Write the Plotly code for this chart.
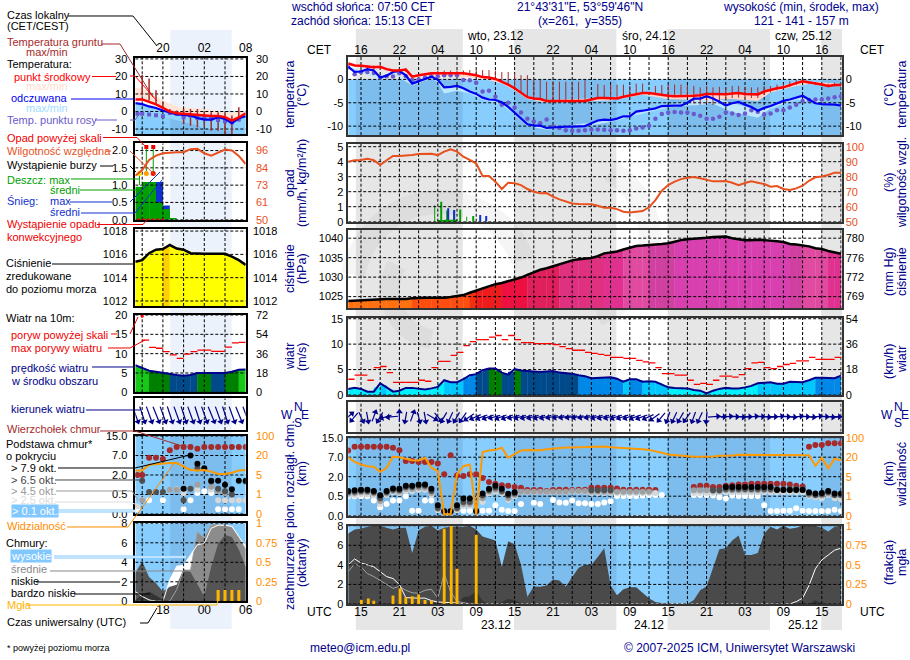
# ICM meteogram, 22-25.12, short range column on the left and long range on the right
import numpy as np
import plotly.graph_objects as go

W, H = 910, 660
FONT = "Liberation Sans"
NAVY = "#00008B"
ORANGE = "#FF8C00"
RH_COL = "#E8501E"
BROWN = "#A52A2A"
DEW = "#6A5ACD"
NIGHT = "#E6E6E6"
SKY_DAY = "#87CEFF"
SKY_NIGHT = "#7CBDEE"

# ---- long range column, hours counted from 13 UTC on 22.12 ----
hours = list(range(78))

temp_mid = [3.4, 3.0, 2.9, 2.7, 2.6, 2.7, 2.2, 1.9, 1.9, 2.1,
            0.6, 0.9, 1.1, 1.3, 1.3, 1.3, 1.3, 1.4, 1.3, 1.1,
            0.9, 0.5, 0.4, 0.1, -0.5, -1.1, -1.9, -2.8, -3.8, -4.1,
            -4.2, -4.6, -4.6, -4.6, -4.6, -4.6, -4.6, -4.6, -4.3, -4.0,
            -4.0, -4.1, -4.1, -3.7, -3.4, -3.1, -2.9, -2.9, -3.1, -3.4,
            -3.5, -3.6, -3.6, -3.6, -3.5, -3.4, -3.1, -3.1, -3.2, -3.2,
            -3.0, -2.9, -3.1, -3.2, -3.2, -2.6, -2.2, -1.9, -1.7, -1.2,
            -0.8, -0.4, -0.6, -0.9, -1.1, -1.4, -1.2, -1.2]
temp_feel = [2.7, 1.6, 1.7, 2.2, 1.9, 0.4, 0.8, 1.6, 1.8, 0.9,
             -0.9, -0.4, 0.1, 0.6, -0.1, -1.7, -1.6, -1.4, -1.9, -2.6,
             -3.1, -3.9, -4.3, -4.4, -4.9, -5.9, -7.1, -8.4, -9.6, -9.9,
             -9.9, -10.4, -10.3, -10.1, -10.1, -10.1, -10.1, -10.0, -9.4, -8.8,
             -8.6, -8.7, -8.4, -7.9, -7.9, -6.9, -6.7, -6.4, -6.2, -5.7,
             -5.6, -5.6, -5.6, -5.0, -4.1, -4.1, -3.6, -4.1, -4.8, -5.6,
             -5.1, -4.8, -5.4, -5.9, -6.7, -6.1, -5.7, -5.1, -4.6, -4.3,
             -3.9, -3.5, -4.3, -5.1, -5.3, -5.3, -5.4, -5.6]
temp_dew = [2.6, 1.1, 1.6, 1.6, 1.4, 0.4, 0.7, 0.6, 1.3, 0.7,
            -0.1, 0.0, 0.4, 0.7, 0.7, 0.9, 0.9, 0.9, -0.1, -0.2,
            -0.7, -2.6, -2.4, -3.7, -5.4, -5.0, -6.0, -7.1, -8.4, -9.0,
            -9.4, -8.6, -10.1, -10.4, -10.9, -11.0, -11.0, -10.9, -10.7, -10.7,
            -10.8, -10.9, -10.9, -11.0, -10.9, -10.5, -10.3, -9.9, -8.4, -7.4,
            -7.1, -7.0, -7.1, -7.1, -7.4, -7.8, -8.4, -8.4, -8.0, -7.1,
            -7.3, -7.6, -7.3, -6.6, -6.9, -7.5, -7.3, -6.6, -6.6, -6.0,
            -5.4, -4.6, -4.4, -4.3, -4.3, -4.1, -3.8, -3.6]
mid_band_hours = [0, 5, 7, 10, 13, 21, 24, 26, 28, 31, 38, 41, 46, 50, 55, 60, 64, 66, 70, 72, 77]
mid_high = [3.5, 2.8, 2.0, 0.8, 1.5, 0.7, -0.3, -1.7, -3.6, -4.4, -4.1, -3.9, -2.7, -3.3, -3.2, -2.8, -3.0, -2.0, -0.6, -0.4, -1.0]
mid_low = [3.1, 2.4, 1.6, 0.3, 0.9, 0.2, -0.9, -2.3, -4.2, -5.0, -4.6, -4.5, -3.3, -4.2, -4.4, -4.2, -4.6, -2.8, -1.4, -1.0, -1.5]
feel_band_hours = [0, 5, 7, 10, 13, 14, 15, 17, 19, 21, 24, 26, 28, 31, 38, 41, 46, 50, 53, 55, 57, 60, 64, 66, 70, 72, 77]
feel_high = [2.8, 0.5, 1.7, -0.8, 0.7, 0.0, -1.6, -1.3, -2.5, -3.8, -4.8, -7.0, -9.5, -10.3, -9.3, -8.6, -6.6, -5.5, -4.9, -4.0, -4.0, -5.0, -6.6, -5.6, -3.8, -4.2, -5.5]
feel_low = [2.3, 0.0, 1.2, -1.3, 0.2, -0.6, -3.0, -2.4, -3.0, -4.3, -5.4, -7.6, -10.0, -10.8, -9.8, -9.1, -7.3, -6.0, -5.6, -5.5, -5.2, -7.0, -8.2, -6.2, -4.3, -4.8, -5.9]
ground_hours = [3, 4, 5, 8, 9, 14, 15, 16, 17, 18, 19, 20, 21, 22, 23, 24, 25, 26, 27, 28, 29,
                30, 31, 32, 33, 34, 35, 36, 37, 39, 40, 41, 42, 43, 44, 45, 46, 48, 49, 50,
                51, 52, 53, 54, 55, 56, 57, 58, 59, 60, 61, 62, 63, 64, 65, 66, 67, 68, 69,
                70, 71, 72, 73, 74, 75, 76, 77]
ground_max = [3.0, 3.0, 3.0, 2.4, 2.4, 1.9, 1.9, 1.9, 1.9, 1.9, 2.0, 2.0, 2.0, 2.0, 1.9, 1.6, 1.6, 1.3, 0.9, 0.9, 0.2,
              -0.1, -0.5, -0.4, -0.5, -0.5, -0.5, -0.5, -0.1, -1.0, -1.2, -1.1, -1.1, -1.1, -1.4, -0.9, -0.9, -1.4, -1.2, -1.1,
              -1.1, -1.1, -1.2, -1.4, -1.7, -1.4, -1.7, -1.6, -1.7, -1.4, -1.4, -1.6, -1.7, -1.7, -1.4, -1.4, -1.1, -0.9, -0.4,
              -0.1, -0.1, -0.5, -0.6, -0.9, -0.9, -0.7, -0.9]
ground_min = [2.1, 2.1, 2.2, 1.5, 1.6, 1.0, 1.0, 1.0, 1.0, 1.0, 0.9, 0.7, 0.4, 0.4, 0.1, -0.5, -1.1, -1.9, -2.8, -3.8, -4.1,
              -4.2, -4.6, -4.6, -4.6, -4.6, -4.6, -4.6, -4.6, -4.0, -4.0, -4.1, -4.1, -3.7, -3.4, -3.1, -2.9, -3.1, -3.4, -3.5,
              -3.6, -3.6, -3.6, -5.1, -5.4, -5.0, -5.5, -5.1, -4.5, -4.0, -3.9, -3.9, -4.0, -4.0, -3.2, -2.8, -2.3, -2.1, -1.6,
              -1.2, -0.7, -1.0, -1.2, -1.4, -1.7, -1.5, -1.5]

rel_hum = [90, 91, 91.2, 92, 91, 87.8, 91, 93.8, 93.8, 94,
           94.4, 95.1, 95.3, 95.3, 94.4, 96.7, 98.2, 96.7, 93.3, 91.1,
           88.9, 80.4, 80.4, 76.7, 71.8, 76, 75.6, 74.4, 71.8, 70,
           68.9, 69.1, 66.7, 64.9, 63.8, 62.2, 61.8, 61.6, 61.6, 60.7,
           59.3, 59.3, 58.4, 56.7, 56.2, 56.7, 57.1, 59.6, 64.4, 70.7,
           74.4, 76.7, 78.4, 79.3, 79.8, 78.9, 77.8, 76.9, 76.9, 77.1,
           76, 74.4, 75.8, 76.9, 76, 75.1, 73.3, 73.8, 71.8, 71.1,
           72.2, 74, 77.3, 79.6, 80.2, 81.1, 82.7, 82.7]
rain_max_hours = [13.5, 14.5, 15.5, 16.5, 17.5, 18.5, 19.5]
rain_max = [1.1, 1.33, 0.75, 0.73, 0.82, 0.33, 0.38]
snow_max_hours = [15.6, 16.6, 20.6, 21.6]
snow_max = [0.9, 0.78, 0.44, 0.38]
rain_mean_hours = [14.5, 15.5, 16.5]
rain_mean = [0.12, 0.13, 0.13]

pressure = [1023.9, 1024.0, 1024.1, 1024.2, 1024.2, 1024.3, 1024.4, 1024.4, 1024.4, 1024.4,
            1024.6, 1024.7, 1024.7, 1024.7, 1024.7, 1024.7, 1024.9, 1025.1, 1025.4, 1026.0,
            1026.6, 1027.1, 1027.6, 1028.2, 1028.5, 1028.9, 1029.3, 1029.9, 1030.6, 1031.3,
            1031.9, 1032.3, 1032.8, 1033.3, 1033.8, 1034.3, 1034.6, 1034.7, 1034.9, 1035.4,
            1036.1, 1036.3, 1036.6, 1037.1, 1037.6, 1038.0, 1038.1, 1038.3, 1038.4, 1038.5,
            1038.7, 1039.1, 1039.5, 1039.7, 1039.8, 1039.9, 1040.1, 1040.3, 1040.3, 1040.4,
            1040.0, 1039.7, 1039.5, 1039.5, 1039.6, 1039.5, 1039.4, 1039.2, 1039.0, 1038.5,
            1038.4, 1038.2, 1037.9, 1037.4, 1037.2, 1036.7, 1036.3, 1036.0]

wind = [1.2, 1.4, 1.2, 0.65, 0.65, 2.3, 1.5, 0.65, 0.85, 1.4,
        1.4, 1.3, 1.1, 1.3, 1.6, 2.9, 2.5, 2.5, 3.1, 3.9,
        4.1, 4.9, 5.2, 5.2, 4.4, 4.0, 5.1, 4.8, 4.7, 4.6,
        4.5, 4.6, 4.7, 4.4, 4.3, 4.2, 3.9, 3.7, 3.3, 3.4,
        3.5, 3.5, 3.2, 2.6, 3.1, 3.1, 2.6, 2.7, 2.6, 2.1,
        1.5, 1.4, 1.4, 1.3, 1.0, 0.85, 0.3, 0.85, 1.2, 1.4,
        1.3, 1.3, 1.5, 1.8, 2.3, 2.4, 2.5, 2.2, 2.2, 2.6,
        2.5, 2.5, 2.9, 3.4, 3.4, 3.3, 3.3, 3.8]
gust = [3.1, 3.9, 3.9, 2.9, 5.4, 5.6, 4.4, 2.5, 2.5, 2.5,
        2.5, 2.9, 2.7, 5.4, 6.6, 6.6, 7.8, 8.4, 9.7, 10.5,
        10.9, 10.9, 11.4, 11.7, 10.9, 11.7, 10.9, 10.3, 10.3, 10.1,
        10.1, 10.1, 9.9, 9.5, 9.1, 8.8, 8.8, 8.4, 8.2, 8.0,
        7.8, 7.4, 7.4, 7.2, 7.2, 6.8, 6.5, 6.3, 5.4, 4.2,
        4.2, 3.9, 3.9, 2.9, 2.1, 2.3, 2.1, 2.9, 3.7, 3.7,
        3.5, 4.0, 5.2, 6.3, 6.4, 5.4, 5.2, 5.6, 6.0, 6.2,
        6.7, 6.7, 7.4, 7.0, 7.0, 7.0, 7.4]
wind_dir = [230, 40, 335, 350, 200, 30, 75, 85, 180, 10,
            200, 345, 350, 300, 320, 30, 25, 30, 35, 55,
            65, 70, 70, 75, 70, 70, 75, 75, 75, 75,
            75, 75, 78, 78, 80, 80, 80, 78, 78, 75,
            75, 75, 72, 72, 72, 70, 70, 65, 55, 40,
            20, 25, 30, 35, 20, 25, 5, 265, 270, 265,
            270, 275, 270, 265, 270, 275, 270, 265, 270, 275,
            265, 270, 275, 265, 270, 275, 270, 265]

cloud_top = [9.8, 11.3, 11.3, 11.3, 11.3, 11.3, 11.3, 10.9, 9.9, 6.0,
             6.0, 5.8, 5.8, 5.8, 5.4, 2.6, 7.8, 2.3, 2.2, 2.6,
             2.6, 1.9, 1.6, 1.45, 1.35, 1.3, 1.2, 1.15, 0.97, 0.97,
             0.97, 0.9, 0.97, 1.0, 1.0, 0.97, 1.0, 1.0, 1.15, 1.15,
             1.15, 1.15, 1.1, 1.0, 1.0, 1.0, 1.0, 1.0, 0.97, None,
             None, None, None, None, 1.2, 1.3, 1.3, 1.2, 1.2, 1.3,
             1.35, 1.4, 1.4, 1.45, 1.45, 1.45, 1.45, 1.45, 1.45, 1.4,
             1.3, 1.25, 11.3, 12.0, 12.0, 12.7, 12.7, 12.7]
base_79 = [0.9, 0.95, 1.0, 1.0, 0.9, 0.58, 0.9, 1.1, 1.07, 1.3,
           1.3, 1.4, 1.4, 1.07, 0.27, 0.12, 0.12, 0.27, 0.44, 0.44,
           0.13, 0.7, 1.07, 1.3, 1.07, 0.68, 0.8, None, None, None,
           None, None, None, None, None, None, None, None, None, None,
           None, None, None, None, None, None, None, None, None, None,
           None, None, None, None, None, None, None, None, None, 1.2,
           1.2, 1.2, 1.2, 1.2, 1.2, 1.2, 1.2, 0.97, 0.97, 0.97,
           0.97, 0.97, 0.8, 0.7, 0.75, 0.9, 0.7, 0.7]
base_65 = [0.8, 0.85, 0.9, 0.9, 0.8, 0.45, 0.8, 1.0, 0.95, 1.2,
           1.2, 1.3, 1.3, 0.9, 0.2, 0.1, 0.1, 0.2, 0.35, 0.35,
           0.11, 0.55, 0.95, 1.15, 0.9, 0.55, 0.7, None, None, None,
           None, None, None, None, None, None, None, None, 0.95, 0.95,
           0.95, 0.95, None, None, None, None, None, None, None, None,
           None, None, None, None, None, None, None, 0.95, 0.95, 1.05,
           1.05, 1.05, 1.05, 1.05, 1.05, 1.05, 1.05, 1.05, 1.05, 1.05,
           1.05, 1.05, 0.7, 0.6, 0.65, 0.8, 0.6, 0.6]
base_45 = [0.7, 0.75, 0.8, 0.8, 0.7, 0.38, 0.7, 0.9, 0.85, 1.05,
           1.05, 1.15, 1.15, 0.75, 0.17, 0.09, 0.09, 0.17, 0.3, 0.3,
           0.1, 0.45, 0.85, 1.0, 0.8, 0.45, 0.6, 0.85, 0.85, 0.85,
           0.85, 0.85, 0.85, 0.85, 0.85, 0.9, 0.9, 0.9, 0.85, 0.85,
           0.85, 0.85, 0.85, 0.85, 0.85, 0.85, 0.85, 0.85, None, None,
           None, None, None, None, 0.95, 0.95, 0.95, 0.9, 0.9, 0.95,
           0.95, 0.95, 0.95, 0.95, 0.95, 0.95, 0.95, 0.95, 0.95, 0.95,
           0.95, 0.95, 0.6, 0.55, 0.55, 0.7, 0.55, 0.55]
base_25 = [0.6, 0.6, 0.65, 0.65, 0.55, 0.3, 0.6, 0.8, 0.75, 0.9,
           0.9, 1.0, 1.0, 0.6, 0.15, 0.08, 0.08, 0.15, 0.25, 0.25,
           0.09, 0.35, 0.7, 0.85, 0.7, 0.4, 0.5, 0.8, 0.8, 0.8,
           0.8, 0.8, 0.8, 0.8, 0.8, 0.85, 0.85, 0.85, 0.75, 0.75,
           0.75, 0.75, 0.75, 0.75, 0.75, 0.75, 0.75, 0.75, 0.75, None,
           None, None, None, None, 0.75, 0.75, 0.75, 0.75, 0.8, 0.8,
           0.8, 0.8, 0.8, 0.8, 0.8, 0.8, 0.8, 0.8, 0.8, 0.8,
           0.8, 0.8, 0.5, 0.48, 0.45, 0.6, 0.45, 0.42]
base_01 = [0.5, 0.5, 0.5, 0.5, 0.39, 0.21, 0.3, 0.39, 0.39, 0.5,
           0.13, 0.13, 0.39, 0.39, 0.15, 0.12, 0.12, 0.15, 0.13, 0.13,
           0.13, 0.13, 0.13, 0.27, 0.15, 0.12, 0.12, 0.3, None, 0.33,
           0.3, None, 0.4, 0.34, 0.33, 0.39, 0.32, 0.32, 0.3, 0.3,
           0.34, 0.37, 0.52, 0.52, 0.52, 0.52, 0.55, 0.6, 0.6, 0.6,
           None, None, None, None, 0.6, 0.6, 0.6, 0.55, 0.47, 0.44,
           0.55, 0.52, 0.52, 0.52, 0.52, 0.27, 0.12, 0.12, 0.13, 0.13,
           0.19, 0.13, 0.12, 0.12, 0.12, 0.12, 0.15, 0.12]
visibility = [20, 16.4, 14.4, 13.1, 12.6, 8.6, 11.9, 21.4, 20, 18.7,
              17.7, 17.5, 19.5, 11.9, 9.3, 0.07, 0.07, 6.8, 13.1, 14.4,
              0.07, 40.7, 47.6, 50.2, 58.6, 19.5, 31, 47.6, 50, 50,
              49, 53, 56, 58.6, 60, 60, 61, 61, 64, 64,
              64, 61, 60, 58.6, 57, 56, 53, 50, 45, 38,
              31, 28, 25.5, 23, 21.4, 21.4, 21.4, 23, 25.5, 25.5,
              27, 30, 30, 30, 31, 30, 30, 30, 31, 31,
              31, 31, 28, 13.4, 19.5, 11.4, 18.7, 17.7]

low_cloud = [7.2, 7.6, 7.7, 7.9, 8, 8, 7.8, 7.6, 7.8, 7.8,
             5.2, 7.5, 7.9, 8, 7.5, 7.8, 7.9, 7.9, 7.9, 8,
             7.6, 6.9, 6.7, 6.5, 3.8, 6.4, 6.1, 4, 0.75, 1.8,
             1.77, 1.9, 2.5, 2.4, 1.8, 2.8, 3.7, 4, 4, 4.8,
             5.7, 1.9, 0.9, 1.5, 1.7, 1.7, 1.1, 0.6, 0.2, 0.07,
             0, 0, 0, 0, 0.4, 1.4, 1.8, 3.8, 5.6, 5.7,
             6.5, 7, 5, 5, 5.2, 7.2, 7.9, 7.6, 8, 7.7,
             7.8, 8, 8, 8, 7.8, 7.4, 7.9, 8]
high_cloud_hours = [0, 1, 2, 3, 4, 5, 6, 7, 8, 9, 10, 11, 12, 13, 14, 15, 16, 17, 18, 69, 70, 71, 72, 73, 74, 75, 76, 77]
high_cloud = [4, 4.6, 4.2, 4, 3.8, 3.3, 2.8, 2.6, 2, 0.65, 0.6, 0.6, 0.6, 0.35, 0.2, 0.14, 0.14, 0.1, 0, 0, 0.24, 0.6, 1.9, 3.6, 4.5, 5, 5.5, 5.7]
mid_cloud_hours = [0, 1, 2, 3, 4, 5, 6, 7, 8, 9, 10, 11, 12, 13, 14, 15, 16, 17, 18, 19]
mid_cloud = [3.3, 4.1, 3.8, 3.1, 2.8, 2.4, 2, 1.6, 1.8, 1.4, 1.15, 1.1, 1.4, 1.5, 0.6, 3.1, 1.25, 0.25, 0.15, 0]
vlow_cloud_hours = [17, 18, 19, 20, 21, 22, 23, 24, 25, 26, 27, 28, 66, 67, 68, 72, 73, 74]
vlow_cloud = [0, 0.7, 0.8, 1.3, 0.3, 0, 0, 0.2, 0.5, 0.4, 0.1, 0, 0, 0.2, 0, 0, 0.4, 0]
fog_hours = [2.05, 3.15, 4, 7, 8.1, 9, 10, 11, 12, 13, 15, 16.1, 17, 20]
fog = [0.05, 0.07, 0.04, 0.11, 0.2, 0.085, 0.1, 0.12, 0.05, 0.04, 0.96, 1.0, 0.45, 0.88]

night_spans = [(1.2, 17.9), (25.9, 41.9), (49.9, 65.9), (73.9, 78)]
cet_ticks = [2, 8, 14, 20, 26, 32, 38, 44, 50, 56, 62, 68, 74]
cet_labels = ["16", "22", "04", "10", "16", "22", "04", "10", "16", "22", "04", "10", "16"]
utc_labels = ["15", "21", "03", "09", "15", "21", "03", "09", "15", "21", "03", "09", "15"]

# ---- short range column, UTC hours with 24 = 00 ----
mini_hours = [14, 15, 16, 17, 18, 19, 20, 21, 22, 23, 24, 25, 26, 27, 28, 29, 30]
mini_dot_hours = [14.3, 15, 16, 17, 18, 19, 20, 21, 22, 23, 24, 25, 26, 27, 28, 29, 30]

mini_temp = [6.9, 6.9, 5.5, 4.1, 2.1, 0, -1, -1.3, -1.9, -2.3, -2.5, -2.5, -2.5, -3.2, -5.2, -3.4, -1]
mini_feel = [4.8, 4.2, 2.9, 2, 0.6, -0.4, -1.7, -2, -2.3, -3.7, -4.6, -4.6, -3.3, -4.2, -6.7, -3.8, -2.7]
mini_dew = [-1.3, -1.3, -1.7, -2.1, -2.7, -0.8, -1.3, -3.3, -2.3, -3.7, -3.3, -4.2, -4.8, -5.6, -6.2, -4.6]
mini_high = [13.7, 13, 12, 9, 6.3, 4.5, 2.9, 2.4, 2, 1.5, 1.2, 0.9, 0.6, 0.2, -0.4, 0, 0.6]
mini_band_low = [-3, -3, -3, -3, -3.5, -4, -5, -6, -7, -8, -10, -10, -10.5, -11, -11, -10, -8]
mini_ground_hours = [15, 16, 17, 18, 19, 20, 21, 22, 23, 24, 25, 26, 27, 28, 29]
mini_ground_max = [20.8, 18.8, 12.1, 5.4, 1.5, 0.6, 1.5, 1.5, 1.5, -0.4, -0.4, -0.4, -1.3, -2.3, 2.5]
mini_ground_min = [9.2, 6.3, 4.4, 1.5, -1.3, -2.3, -7.1, -8.1, -9, -9, -11, -11, -12.9, -12.9, -5.6]

mini_rh = [79.2, 83, 89.7, 92.6, 94.2, 94.7, 94.9, 94.9, 96.9, 97.1, 94.2, 92.6, 94.7, 96.7, 96, 92.4, 87]
mini_rain_hours = [14.5, 15.5, 16.5, 17.5, 18.5, 19.5]
mini_rain = [0.95, 1.09, 1.09, 0.5, 0.31, 0.05]
mini_snow_hours = [17.5, 18.5]
mini_snow = [1.09, 0.41]
mini_storm_hours = [14.6, 15.6, 16.6]
mini_storm_level = [1.34, 1.34, 1.34]
mini_storm_colors = ["#FFE000", "#FFA000", "#F01000"]
mini_rain_peak_hours = [14.6, 15.6, 16.6]
mini_rain_peak = [1.0, 2.1, 2.1]
mini_over_hours = [15.6, 16.6]
mini_over_level = [2.1, 2.1]
mini_conv_hours = [14.5, 15.2, 15.9, 16.6, 17.3, 18]

mini_press = [1015.37, 1015.5, 1016.1, 1016.4, 1016.45, 1016.8, 1016.5, 1016.4, 1016.1, 1016.05,
              1016.05, 1016.05, 1016.05, 1016.05, 1015.8, 1015.5, 1015.1]

mini_wind = [7, 6.2, 5.6, 5.3, 5.0, 4.65, 4.5, 4.3, 4.5, 5, 5, 4.9, 4.9, 5, 5.3, 5.85, 5.9]
mini_gust_hours = [15, 16, 17, 18, 19, 20, 21, 22, 23, 24, 25, 26, 27, 28, 29]
mini_gust = [13.5, 11.6, 11.4, 10.5, 9.7, 8.8, 9.9, 10.5, 10.9, 10.9, 10.6, 10.6, 11.7, 12.8, 12.9]
mini_gust_over_hours = [15.0]
mini_gust_over = [19.7]
mini_dir = [340, 342, 340, 338, 340, 342, 340, 342, 340, 342, 340, 338, 340, 342, 340, 338, 340]

mini_top = [2, 2, 6.4, 6.4, 6.1, 9.2, 10.5, 10.5, 10.5, 9.8, 10.5, 10.5, 10.5, 10.5, 10.5, 10.5, 10.5]
mini_79 = [None, None, None, None, None, None, None, 0.95, 7, 4.9, 3.7, 1.55, 1.55, 1.25, 0.9, 1.55, 1.55]
mini_65 = [None, 1.55, 0.7, 0.7, 0.7, None, None, 0.35, 0.95, 3.7, None, 1.5, 0.95, 0.75, 0.5, None, 1.5]
mini_45 = [None, 0.35, None, None, None, 0.87, 0.87, None, None, 1.25, None, 1.1, 0.75, 0.62, 0.5, None, None]
mini_25 = [0.2, None, None, None, None, 0.87, 0.9, 0.62, None, 0.87, None, 0.87, 0.35, 0.35, 0.35, 0.35, 0.35]
mini_01 = [0.12, 0.35, 0.35, None, 0.35, None, None, 0.12, 0.35, 0.62, 0.75, 0.62, 0.12, 0.12, 0.12, 0.12, None]
mini_vis = [8.4, 8.4, 12.9, 13.4, 14.2, 14.2, 14.2, 11.6, 8.9, 8.4, 8.9, 7.6, 5.8, 5.8, 6.8, 8.4, 8.9]

mini_cl_high = [1, 0.5, 0.14, 0, 0, 2.2, 3.6, 3.7, 4.75, 5.8, 5.95, 7.5, 7.8, 7.8, 7.7, 6.6, 5.6]
mini_cl_mid = [0, 0, 0, 0, 0, 0, 1.2, 3.2, 3.2, 7.1, 6.5, 7.8, 7.9, 7.8, 7.6, 6.6, 5.3]
mini_cl_low = [2.9, 4.1, 2.5, 1.85, 1, 1.5, 1.7, 3.3, 3, 1.7, 0.5, 3.55, 5.9, 6.8, 6.6, 5.3, 3.55]
mini_cl_vlow = [0.1, 0.7, 1, 0.6, 0.15, 0, 0, 0, 0, 0, 0, 0, 0, 0, 0, 0, 0]
mini_fog_hours = [26, 27, 28, 29]
mini_fog = [0.145, 0.145, 0.145, 0.145]

# scales with equal steps between unequal values
base_scale = [0, 0.5, 2, 7, 15]
vis_scale = [0, 1, 5, 20, 100]
scale_pos = [0, 1, 2, 3, 4]


def base_pos(values):
    return [None if v is None else float(np.interp(v, base_scale, scale_pos)) for v in values]


def vis_pos(values):
    return [float(np.interp(v, vis_scale, scale_pos)) for v in values]


def wind_color(speed):
    for limit, col in [(2, "#00F0FF"), (3, "#00C8FF"), (4, "#0088E8"), (5, "#004A8C"), (5.8, "#008000")]:
        if speed < limit:
            return col
    return "#18C818"


def press_color(p):
    for limit, col in [(1024.6, "#FF7010"), (1026, "#FF4E10"), (1026.6, "#F03010"), (1028.5, "#EE1C1C"),
                       (1030, "#EE1040"), (1033, "#E0205C"), (1035.5, "#E03080"), (1037, "#E03090"),
                       (1038.3, "#E04AA0"), (1039, "#D040A0")]:
        if p < limit:
            return col
    return "#D840B0"


def px_x(x):
    return x / W


def px_y(y):
    return 1 - y / H


fig = go.Figure()
shapes = []
annotations = []
axis_count = [0]


def panel(box, xrange, yrange, yticks=None, ylabels=None, rticks=None, rlabels=None, rrange=None,
          rcolor="black", frame="black", top=None, bottom=None, lstand=0, rstand=0, xstand=0):
    # one plotting box: x axis, left y axis and an overlaid right y axis
    axis_count[0] += 1
    n = 2 * axis_count[0] - 1
    x0, y0, x1, y1 = box
    xname, yname, rname = f"xaxis{n}", f"yaxis{n}", f"yaxis{n + 1}"
    xax = dict(domain=[px_x(x0), px_x(x1)], range=list(xrange), anchor=f"y{n}", showgrid=False, zeroline=False,
               showline=True, mirror=True, linecolor=frame, linewidth=1.5, ticks="", showticklabels=False,
               tickfont=dict(family=FONT, size=12, color="black"))
    ticks = top or bottom
    if ticks:
        xax.update(side="top" if top else "bottom", tickmode="array", tickvals=ticks[0], ticktext=ticks[1],
                   showticklabels=True, ticks="outside", ticklen=1, tickcolor="rgba(0,0,0,0)", ticklabelstandoff=xstand)
    yax = dict(domain=[px_y(y1), px_y(y0)], range=list(yrange), anchor=f"x{n}", showgrid=False, zeroline=False,
               showline=True, mirror=True, linecolor=frame, linewidth=1.5, ticks="outside", ticklen=1 + lstand,
               tickcolor="rgba(0,0,0,0)", tickmode="array", tickvals=yticks or [], ticktext=ylabels or [],
               tickfont=dict(family=FONT, size=11, color="black"))
    rax = dict(domain=[px_y(y1), px_y(y0)], range=list(rrange or yrange), anchor=f"x{n}", overlaying=f"y{n}", side="right",
               showgrid=False, zeroline=False, showline=False, ticks="outside", ticklen=1 + rstand,
               tickcolor="rgba(0,0,0,0)", tickmode="array", tickvals=rticks or [], ticktext=rlabels or [],
               tickfont=dict(family=FONT, size=11, color=rcolor))
    fig.update_layout({xname: xax, yname: yax, rname: rax})
    # the right axis only shows with a trace on it
    fig.add_trace(go.Scatter(x=[xrange[0]], y=[(rrange or yrange)[0]], mode="markers", marker=dict(opacity=0),
                             xaxis=f"x{n}", yaxis=f"y{n + 1}", hoverinfo="skip"))
    return dict(x=f"x{n}", y=f"y{n}", r=f"y{n + 1}", xrange=xrange, yrange=yrange, box=box)


def rect(p, x0, x1, y0, y1, color):
    shapes.append(dict(type="rect", xref=p["x"], yref=p["y"], x0=x0, x1=x1, y0=y0, y1=y1,
                       fillcolor=color, line_width=0, layer="below"))


def grid(p, xvals, yvals):
    xs, ys = [], []
    for v in xvals:
        xs += [v, v, None]
        ys += [p["yrange"][0], p["yrange"][1], None]
    for v in yvals:
        xs += [p["xrange"][0], p["xrange"][1], None]
        ys += [v, v, None]
    fig.add_trace(go.Scatter(x=xs, y=ys, mode="lines", xaxis=p["x"], yaxis=p["y"], hoverinfo="skip",
                             line=dict(color="black", width=1, dash="3px,2px")))


def line(p, x, y, color, width=2, right=False, mode="lines", **kw):
    fig.add_trace(go.Scatter(x=x, y=y, mode=mode, xaxis=p["x"], yaxis=p["r"] if right else p["y"], hoverinfo="skip",
                             line=dict(color=color, width=width), connectgaps=False, **kw))


def area(p, x, y, color):
    fig.add_trace(go.Scatter(x=x + [x[-1], x[0]], y=y + [p["yrange"][0], p["yrange"][0]], mode="lines", fill="toself",
                             fillcolor=color, line=dict(width=0), xaxis=p["x"], yaxis=p["y"], hoverinfo="skip"))


def band(p, x, high, low, color):
    fig.add_trace(go.Scatter(x=x + x[::-1], y=high + low[::-1], mode="lines", fill="toself", fillcolor=color,
                             line=dict(width=0), xaxis=p["x"], yaxis=p["y"], hoverinfo="skip"))


def bars(p, x, y, color, width, base=None, right=False):
    # base is the axis floor: the bar then runs up to the value itself
    heights = y if base is None else [v - base for v in y]
    fig.add_trace(go.Bar(x=x, y=heights, base=base, width=width, marker=dict(color=color, line_width=0), xaxis=p["x"],
                         yaxis=p["r"] if right else p["y"], hoverinfo="skip"))


def stems(p, x, high, low, color, width=1):
    xs, ys = [], []
    for a, b, c in zip(x, high, low):
        xs += [a, a, None]
        ys += [b, c, None]
    line(p, xs, ys, color, width)


def dots(p, x, y, color, size=6, symbol="circle", clip=True):
    fig.add_trace(go.Scatter(x=x, y=y, mode="markers", xaxis=p["x"], yaxis=p["y"], hoverinfo="skip", cliponaxis=clip,
                             marker=dict(color=color, size=size, symbol=symbol, line_width=0)))


def dashes(p, start, values, color, width=1.3):
    xs, ys = [], []
    for a, v in zip(start, values):
        xs += [a, a + 1, None]
        ys += [v, v, None]
    line(p, xs, ys, color, width)


def arrows(p, x, directions, length, color):
    # shaft centred on the hour, head on the downwind end
    x0, y0, x1, y1 = p["box"]
    px_h = (x1 - x0) / (p["xrange"][1] - p["xrange"][0])
    px_u = (y1 - y0) / (p["yrange"][1] - p["yrange"][0])
    xs, ys, hx, hy, ang = [], [], [], [], []
    for a, d in zip(x, directions):
        dx = length / 2 * np.sin(np.radians(d)) / px_h
        dy = length / 2 * np.cos(np.radians(d)) / px_u
        xs += [a + dx, a - dx, None]
        ys += [dy, -dy, None]
        hx.append(a - dx)
        hy.append(-dy)
        ang.append((d + 180) % 360)
    fig.add_trace(go.Scatter(x=xs, y=ys, mode="lines", line=dict(color=color, width=1.2), xaxis=p["x"], yaxis=p["y"],
                             cliponaxis=False, hoverinfo="skip"))
    fig.add_trace(go.Scatter(x=hx, y=hy, mode="markers", xaxis=p["x"], yaxis=p["y"], cliponaxis=False, hoverinfo="skip",
                             marker=dict(symbol="triangle-up", size=6, angle=ang, color=color, line_width=0)))


def text(x, y, s, color="black", anchor="left", size=11, angle=0, bg=None):
    annotations.append(dict(x=px_x(x), y=px_y(y), xref="paper", yref="paper", text=s, showarrow=False, xanchor=anchor,
                            yanchor="middle", textangle=angle, bgcolor=bg, borderpad=0,
                            font=dict(family=FONT, size=size, color=color)))


def leader(points, color, width=1, layer="above"):
    path = "M " + " L ".join(f"{px_x(a):.5f},{px_y(b):.5f}" for a, b in points)
    shapes.append(dict(type="path", path=path, xref="paper", yref="paper", line=dict(color=color, width=width), layer=layer))


def paper_rect(x0, y0, x1, y1, color):
    shapes.append(dict(type="rect", xref="paper", yref="paper", x0=px_x(x0), x1=px_x(x1), y0=px_y(y1), y1=px_y(y0),
                       fillcolor=color, line_width=0, layer="below"))


def arc(cx, cy, r, a0, a1, width):
    # faint logo behind the charts
    pts = [(cx + r * np.cos(np.radians(a)), cy - r * np.sin(np.radians(a))) for a in np.linspace(a0, a1, 40)]
    leader(pts, "rgba(0,0,0,0.04)", width, layer="below")


# ---- night bands and backdrop ----
MX0, MX1 = 348.2, 841.5
MAIN_X = (0, (MX1 - MX0) / 6.4)
for a, b in night_spans:
    paper_rect(MX0 + a * 6.4, 29, min(MX0 + b * 6.4, 842), 630, NIGHT)
paper_rect(170.3, 30, 231.7, 629, "#EBF2FB")
arc(440, 290, 88, 20, 170, 24)
arc(440, 290, 50, 150, 260, 20)
arc(570, 240, 80, -70, 60, 22)

grid_main = list(range(2, 78, 3))
grid_mini = [15, 18, 21, 24, 27]
MINI_X = (14, 30)
LX0, LX1 = 135.3, 245.7

# ---- main temperature ----
t_ticks = [0, -5, -10]
p = panel((MX0, 57, MX1, 135), MAIN_X, (-11.9, 4.8), t_ticks, ["0", "-5", "-10"], t_ticks, ["0", "-5", "-10"], frame="#333333",
          top=(cet_ticks, cet_labels), xstand=-5)
rect(p, MAIN_X[0], MAIN_X[1], -11.9, 0, SKY_DAY)
for a, b in night_spans:
    rect(p, a, min(b, MAIN_X[1]), -11.9, 0, SKY_NIGHT)
band(p, feel_band_hours, feel_high, feel_low, "#BFE6FF")
band(p, mid_band_hours, mid_high, mid_low, "#FFD5CC")
grid(p, grid_main, t_ticks)
stems(p, ground_hours, ground_max, ground_min, BROWN)
dots(p, hours, temp_dew, DEW, 4.5)
line(p, hours, temp_feel, "#0000F0", 2.2)
line(p, hours, temp_mid, "#FF0000", 2.5)

# ---- main precipitation and humidity ----
p_ticks = [5, 4, 3, 2, 1, 0]
rh_ticks = [100, 90, 80, 70, 60, 50]
p = panel((MX0, 144, MX1, 221.7), MAIN_X, (0, 5.18), p_ticks, [str(v) for v in p_ticks], rh_ticks, [str(v) for v in rh_ticks],
          rrange=(50, 101.8), rcolor=RH_COL, frame="#333333")
grid(p, grid_main, p_ticks)
bars(p, rain_max_hours, rain_max, "#00A000", 0.1)
bars(p, snow_max_hours, snow_max, "#1030D0", 0.1)
bars(p, rain_mean_hours, rain_mean, "#00A000", 1.05)
line(p, hours, rel_hum, RH_COL, 2, right=True)

# ---- main pressure ----
pr_ticks = [1040, 1035, 1030, 1025]
p = panel((MX0, 230, MX1, 308.3), MAIN_X, (1022, 1042.1), pr_ticks, [str(v) for v in pr_ticks], pr_ticks, ["780", "776", "772", "769"], frame="#333333")
bars(p, [h + 0.5 for h in hours[:-1]], [(a + b) / 2 for a, b in zip(pressure, pressure[1:])], [press_color(v) for v in pressure[:-1]], 1.05, base=1022)
grid(p, grid_main, pr_ticks)
line(p, hours, pressure, "black", 2.5)

# ---- main wind ----
w_ticks = [15, 10, 5, 0]
p = panel((MX0, 317.7, MX1, 395), MAIN_X, (0, 15.2), w_ticks, [str(v) for v in w_ticks], w_ticks, ["54", "36", "18", "0"], frame="#333333")
bars(p, [h + 0.5 for h in hours[:-1]], [(a + b) / 2 for a, b in zip(wind, wind[1:])], [wind_color(v) for v in wind[:-1]], 1.05)
grid(p, grid_main, w_ticks)
dashes(p, hours, gust, "#FF0000")
line(p, hours, wind, "#00008B", 2)

# ---- main wind direction ----
p = panel((MX0, 401.7, MX1, 431.7), MAIN_X, (-1, 1), frame="#333333")
grid(p, grid_main, [])
arrows(p, hours, wind_dir, 10, "#00008B")

# ---- main cloud base ----
p = panel((MX0, 437.7, MX1, 515.7), MAIN_X, (0, 4), scale_pos, ["0.0", "0.5", "2.0", "7.0", "15.0"], scale_pos, ["0", "1", "5", "20", "100"],
          rcolor=ORANGE, frame="#333333")
rect(p, MAIN_X[0], MAIN_X[1], 0, 4, SKY_DAY)
for a, b in night_spans:
    rect(p, a, min(b, MAIN_X[1]), 0, 4, SKY_NIGHT)
grid(p, grid_main, scale_pos)
dots(p, hours, base_pos(cloud_top), BROWN)
dots(p, hours, base_pos(base_01), "white")
dots(p, hours, base_pos(base_25), "#D8D8D8")
dots(p, hours, base_pos(base_45), "#A0A0A0")
dots(p, hours, base_pos(base_65), "#505050")
dots(p, hours, base_pos(base_79), "black")
line(p, hours, vis_pos(visibility), "#FF9900", 2)

# ---- main cloud cover ----
c_ticks = [8, 6, 4, 2, 0]
p = panel((MX0, 525.7, MX1, 604), MAIN_X, (0, 8), c_ticks, [str(v) for v in c_ticks], [1, 0.75, 0.5, 0.25, 0], ["1", "0.75", "0.5", "0.25", "0"],
          rrange=(0, 1), rcolor=ORANGE, frame="#333333", bottom=(cet_ticks, utc_labels), xstand=-5)
rect(p, MAIN_X[0], MAIN_X[1], 0, 8, SKY_DAY)
for a, b in night_spans:
    rect(p, a, min(b, MAIN_X[1]), 0, 8, SKY_NIGHT)
area(p, hours, low_cloud, "#4A4A4A")
area(p, vlow_cloud_hours[:12], vlow_cloud[:12], "#333333")
area(p, vlow_cloud_hours[12:15], vlow_cloud[12:15], "#333333")
area(p, vlow_cloud_hours[15:], vlow_cloud[15:], "#333333")
line(p, mid_cloud_hours, mid_cloud, "#A0A0A0", 1)
line(p, high_cloud_hours, high_cloud, "white", 1)
bars(p, fog_hours, fog, "#FFB400", 0.45, right=True)
grid(p, grid_main, c_ticks)

# ---- mini temperature ----
tm_ticks = [30, 20, 10, 0, -10]
tm_labels = ["30", "20", "10", "0", "-10"]
p = panel((LX0, 57.7, LX1, 134.3), MINI_X, (-13, 30.7), tm_ticks, tm_labels, tm_ticks, tm_labels, lstand=3, rstand=6,
          top=([18, 24, 30], ["20", "02", "08"]), xstand=-2)
rect(p, 14, 30, -13, 0, SKY_DAY)
rect(p, 19.07, 27.97, -13, 0, SKY_NIGHT)
band(p, mini_hours, mini_high, mini_temp, "#FFE4D8")
band(p, mini_hours, mini_feel, mini_band_low, "#8FD3FF")
grid(p, grid_mini, tm_ticks)
stems(p, mini_ground_hours, mini_ground_max, mini_ground_min, BROWN, 1.5)
dots(p, mini_dot_hours[:16], mini_dew, DEW, 4, "square")
line(p, mini_hours, mini_feel, "#0000F0", 2.2)
line(p, mini_hours, mini_temp, "#FF0000", 2.5)

# ---- mini precipitation ----
pm_ticks = [2, 1.5, 1, 0.5, 0]
p = panel((LX0, 143.3, LX1, 219.7), MINI_X, (0, 2.21), pm_ticks, ["2.0", "1.5", "1.0", "0.5", "0.0"],
          [96, 84.5, 73, 61.5, 50], ["96", "84", "73", "61", "50"], rrange=(50, 100.8), rcolor=RH_COL, lstand=3, rstand=6)
bars(p, mini_snow_hours, mini_snow, "#1030D0", 1)
bars(p, mini_rain_hours, mini_rain, "#00A000", 1)
grid(p, grid_mini, pm_ticks)
stems(p, mini_rain_peak_hours, mini_rain_peak, mini_storm_level, "#00A000", 1)
line(p, mini_hours, mini_rh, RH_COL, 2, right=True)
dots(p, mini_storm_hours, mini_storm_level, mini_storm_colors, 5)
dots(p, mini_over_hours, mini_over_level, "#F00000", 4, "square")
dots(p, mini_conv_hours, [0] * 6, "#F00000", 3, clip=False)

# ---- mini pressure ----
prm_ticks = [1018, 1016, 1014, 1012]
p = panel((LX0, 229.3, LX1, 306), MINI_X, (1011.57, 1018.15), prm_ticks, [str(v) for v in prm_ticks], prm_ticks, [str(v) for v in prm_ticks], lstand=3, rstand=3)
mini_fill = ["#FFD000" if h == 18 else "#FFFF00" for h in mini_hours[:-1]]
bars(p, [h + 0.5 for h in mini_hours[:-1]], [(a + b) / 2 for a, b in zip(mini_press, mini_press[1:])], mini_fill, 1.05, base=1011.57)
grid(p, grid_mini, prm_ticks)
line(p, mini_hours, mini_press, "black", 2.5)

# ---- mini wind ----
wm_ticks = [20, 15, 10, 5, 0]
p = panel((LX0, 315, LX1, 392.3), MINI_X, (0, 20), wm_ticks, [str(v) for v in wm_ticks], wm_ticks, ["72", "54", "36", "18", "0"], lstand=3, rstand=6)
bars(p, [h + 0.5 for h in mini_hours[:-1]], [(a + b) / 2 for a, b in zip(mini_wind, mini_wind[1:])], [wind_color(v) for v in mini_wind[:-1]], 1.05)
grid(p, grid_mini, wm_ticks)
dashes(p, mini_gust_hours, mini_gust, "#FF0000")
line(p, mini_hours, mini_wind, "#00008B", 2)
dots(p, mini_gust_over_hours, mini_gust_over, "#F00000", 3)

# ---- mini wind direction ----
p = panel((LX0, 398.3, LX1, 430), MINI_X, (-1, 1))
grid(p, grid_mini, [])
arrows(p, mini_hours, mini_dir, 16, "#00008B")

# ---- mini cloud base ----
p = panel((LX0, 436, LX1, 514), MINI_X, (0, 4), scale_pos, ["0.0", "0.5", "2.0", "7.0", "15.0"], scale_pos, ["0", "1", "5", "20", "100"],
          rcolor=ORANGE, lstand=3, rstand=6)
rect(p, 14, 30, 0, 4, SKY_DAY)
rect(p, 19.07, 27.97, 0, 4, SKY_NIGHT)
grid(p, grid_mini, scale_pos)
dots(p, mini_dot_hours, base_pos(mini_top), BROWN)
dots(p, mini_dot_hours, base_pos(mini_01), "white")
dots(p, mini_dot_hours, base_pos(mini_25), "#D8D8D8")
dots(p, mini_dot_hours, base_pos(mini_45), "#A0A0A0")
dots(p, mini_dot_hours, base_pos(mini_65), "#505050")
dots(p, mini_dot_hours, base_pos(mini_79), "black")
line(p, mini_hours, vis_pos(mini_vis), "#FF9900", 2)

# ---- mini cloud cover ----
p = panel((LX0, 523.3, LX1, 601.3), MINI_X, (0, 8), c_ticks, [str(v) for v in c_ticks], [1, 0.75, 0.5, 0.25, 0], ["1", "0.75", "0.5", "0.25", "0"],
          rrange=(0, 1), rcolor=ORANGE, lstand=3, rstand=6, bottom=([18, 24, 30], ["18", "00", "06"]), xstand=-4)
rect(p, 14, 30, 0, 8, SKY_DAY)
rect(p, 19.07, 27.97, 0, 8, SKY_NIGHT)
area(p, mini_hours, mini_cl_high, "white")
area(p, mini_hours, mini_cl_mid, "#8C8C8C")
area(p, mini_hours, mini_cl_low, "#555555")
area(p, mini_hours, mini_cl_vlow, "#333333")
line(p, mini_hours, mini_cl_mid, "#A0A0A0", 1)
line(p, mini_hours, mini_cl_high, "white", 1)
bars(p, mini_fog_hours, mini_fog, "#FFB400", 0.45, right=True)
grid(p, grid_mini, c_ticks)

# ---- header and footer ----
text(290, 7, "wschód słońca: 07:50 CET", NAVY, size=12)
text(290, 21, "zachód słońca: 15:13 CET", NAVY, size=12)
text(580, 7, "21°43'31\"E, 53°59'46\"N", NAVY, "center", 12)
text(580, 21, "(x=261,  y=355)", NAVY, "center", 12)
text(801, 7, "wysokość (min, środek, max)", NAVY, "center", 12)
text(801, 21, "121 - 141 - 157 m", NAVY, "center", 12)
text(309, 648, "meteo@icm.edu.pl", NAVY, size=12)
text(623, 648, "© 2007-2025 ICM, Uniwersytet Warszawski", NAVY, size=12)
text(6, 648, "* powyżej poziomu morza", "black", size=9)

for cx, day, date in [(496, "wto, 23.12", "23.12"), (649, "śro, 24.12", "24.12"), (803, "czw, 25.12", "25.12")]:
    text(cx, 36, day, "black", "center", 12)
    text(cx, 625, date, "black", "center", 12)
for x, y, s in [(319, 50, "CET"), (872, 50, "CET"), (319, 612, "UTC"), (872, 612, "UTC")]:
    text(x, y, s, "black", "center", 12)

# rotated axis titles, two columns either side
for x, y, s in [(290, 95, "temperatura"), (302, 95, "(°C)"), (290, 183, "opad"), (302, 183, "(mm/h, kg/m²/h)"),
                (290, 269, "ciśnienie"), (302, 269, "(hPa)"), (290, 357, "wiatr"), (302, 357, "(m/s)"),
                (290, 474, "pion. rozciągł. chm."), (302, 474, "(km)"), (290, 571, "zachmurzenie"), (302, 563, "(oktanty)"),
                (889, 95, "(°C)"), (902, 95, "temperatura"), (889, 183, "(%)"), (902, 183, "wilgotność wzgl."),
                (889, 272, "(mm Hg)"), (902, 272, "ciśnienie"), (889, 362, "(km/h)"), (902, 360, "wiatr"),
                (889, 474, "(km)"), (902, 475, "widzialność"), (889, 563, "(frakcja)"), (902, 563, "mgła")]:
    text(x, y, s, NAVY, "center", 12.5, -90)
for dx in (0, 600):
    for x, y, s in [(287, 415, "W"), (298, 407, "N"), (305, 415, "E"), (298, 423, "S")]:
        text(x + dx, y, s, NAVY, "center", 12)

# left legend: wording and leader lines
text(6, 15, "Czas lokalny")
text(6, 26, "(CET/CEST)")
leader([(68, 16), (133, 16), (157, 46)], "black")
text(6, 42, "Temperatura gruntu", BROWN)
text(47, 52, "max/min", BROWN, "center")
leader([(102, 44), (120, 44), (153, 97)], BROWN)
text(6, 64, "Temperatura:")
text(13, 76.5, "punkt środkowy", "#FF0000")
leader([(92, 76.5), (116, 76.5)], "#FF0000")
leader([(130, 76), (135, 76), (157, 101)], "#FF0000")
text(47, 86, "max/min", "#FFDCCC", "center")
text(10, 98, "odczuwana", "#0000F0")
leader([(71, 99), (135, 99)], "#0000F0")
text(47, 108, "max/min", "#A0DCFF", "center")
text(6, 120, "Temp. punktu rosy", DEW)
leader([(95, 120), (117, 120)], DEW)
leader([(130, 120), (135, 120), (140, 113)], DEW)
text(6, 137.5, "Opad powyżej skali", "#F00000")
leader([(103, 137.5), (137, 137.5), (146, 147)], "#F00000")
text(6, 151, "Wilgotność względna", RH_COL)
leader([(105, 151), (111, 151)], RH_COL)
leader([(130, 151), (155, 175)], RH_COL)
text(6, 165.5, "Wystąpienie burzy")
leader([(100, 166), (113, 166)], "black")
leader([(130, 166), (136, 172)], "black")
text(6, 179.5, "Deszcz: max", "#00A000")
leader([(71, 179), (139, 179)], "#00A000")
text(49, 190.5, "średni", "#00A000")
leader([(80, 190), (142, 190)], "#00A000")
text(6, 201, "Śnieg:", "#1030D0")
text(49, 201, "max", "#1030D0")
leader([(70, 202), (112, 202)], "#1030D0")
leader([(130, 202), (160, 172)], "#1030D0")
text(49, 212, "średni", "#1030D0")
leader([(81, 213), (135, 213), (162, 180)], "#1030D0")
text(6, 224, "Wystąpienie opadu", "#F00000")
text(6, 237, "konwekcyjnego", "#F00000")
leader([(97, 224.5), (143, 224.5), (147, 220)], "#F00000")
text(5, 263, "Ciśnienie")
text(5, 276, "zredukowane")
text(5, 289, "do poziomu morza")
leader([(52, 264), (135, 264)], "black")
text(5, 318, "Wiatr na 10m:")
text(10, 334.5, "poryw powyżej skali", "#F00000")
leader([(111, 334), (117, 334)], "#F00000")
leader([(130, 334), (138, 317)], "#F00000")
text(10, 348, "max porywy wiatru", "#F00000")
leader([(108, 348), (130, 348), (145, 340)], "#F00000")
text(10, 368, "prędkość wiatru", NAVY)
text(10, 381, "w środku obszaru", NAVY)
leader([(92, 367), (135, 367)], NAVY)
text(10, 409, "kierunek wiatru", NAVY)
leader([(86, 410), (140, 410)], NAVY)
text(6, 429, "Wierzchołek chmur", BROWN)
leader([(100, 431), (135, 431), (185, 447)], BROWN)
text(5, 444, "Podstawa chmur*")
text(5, 456, "o pokryciu")
text(10, 468, "> 7.9 okt.")
leader([(58, 468), (135, 468), (190, 455)], "black")
text(10, 480, "> 6.5 okt.", "#444444")
leader([(55, 480), (143, 480)], "#444444")
text(10, 490.5, "> 4.5 okt.", "#999999")
leader([(56, 491), (132, 491), (138, 500)], "#999999")
text(10, 500, "> 2.5 okt.", "#DDDDDD")
leader([(55, 502), (130, 502), (137, 505)], "#DDDDDD")
text(11, 511, "> 0.1 okt.", "white", bg="#80C8FF")
leader([(55, 511), (135, 511)], "#80C8FF", 3)
leader([(55, 511), (135, 511)], "white", 1)
text(6, 526, "Widzialność", "#FF8C00")
leader([(67, 527), (128, 527), (175, 462)], "#FF8C00")
text(5, 543, "Chmury:")
text(10, 556, "wysokie", "white", bg="#80C8FF")
leader([(54, 557), (186, 557)], "#80C8FF", 3)
leader([(54, 557), (186, 557)], "white", 1)
text(10, 569, "średnie", "#888888")
leader([(50, 571), (195, 571)], "#888888")
text(10, 581, "niskie")
leader([(36, 582), (120, 582)], "black")
leader([(130, 582), (137, 582)], "black")
text(10, 593, "bardzo niskie")
leader([(74, 594), (150, 594)], "black")
text(6, 605, "Mgła", "#FFB400")
leader([(26, 605), (217, 605), (219, 595)], "#FFB400")
text(6, 622, "Czas uniwersalny (UTC)")
leader([(140, 623), (148, 623), (157, 608)], "black")

# autoexpand off: texts near the edge would otherwise shrink the plotting area
fig.update_layout(width=W, height=H, margin=dict(l=0, r=0, t=0, b=0, autoexpand=False), showlegend=False, barmode="overlay",
                  paper_bgcolor="white", plot_bgcolor="rgba(0,0,0,0)", shapes=shapes, annotations=annotations,
                  font=dict(family=FONT, size=12), hovermode=False)

# the page's default body margin would push the figure 8px off the window
fig.write_html("out.html", config=dict(displayModeBar=False), post_script="document.body.style.margin='0';")
